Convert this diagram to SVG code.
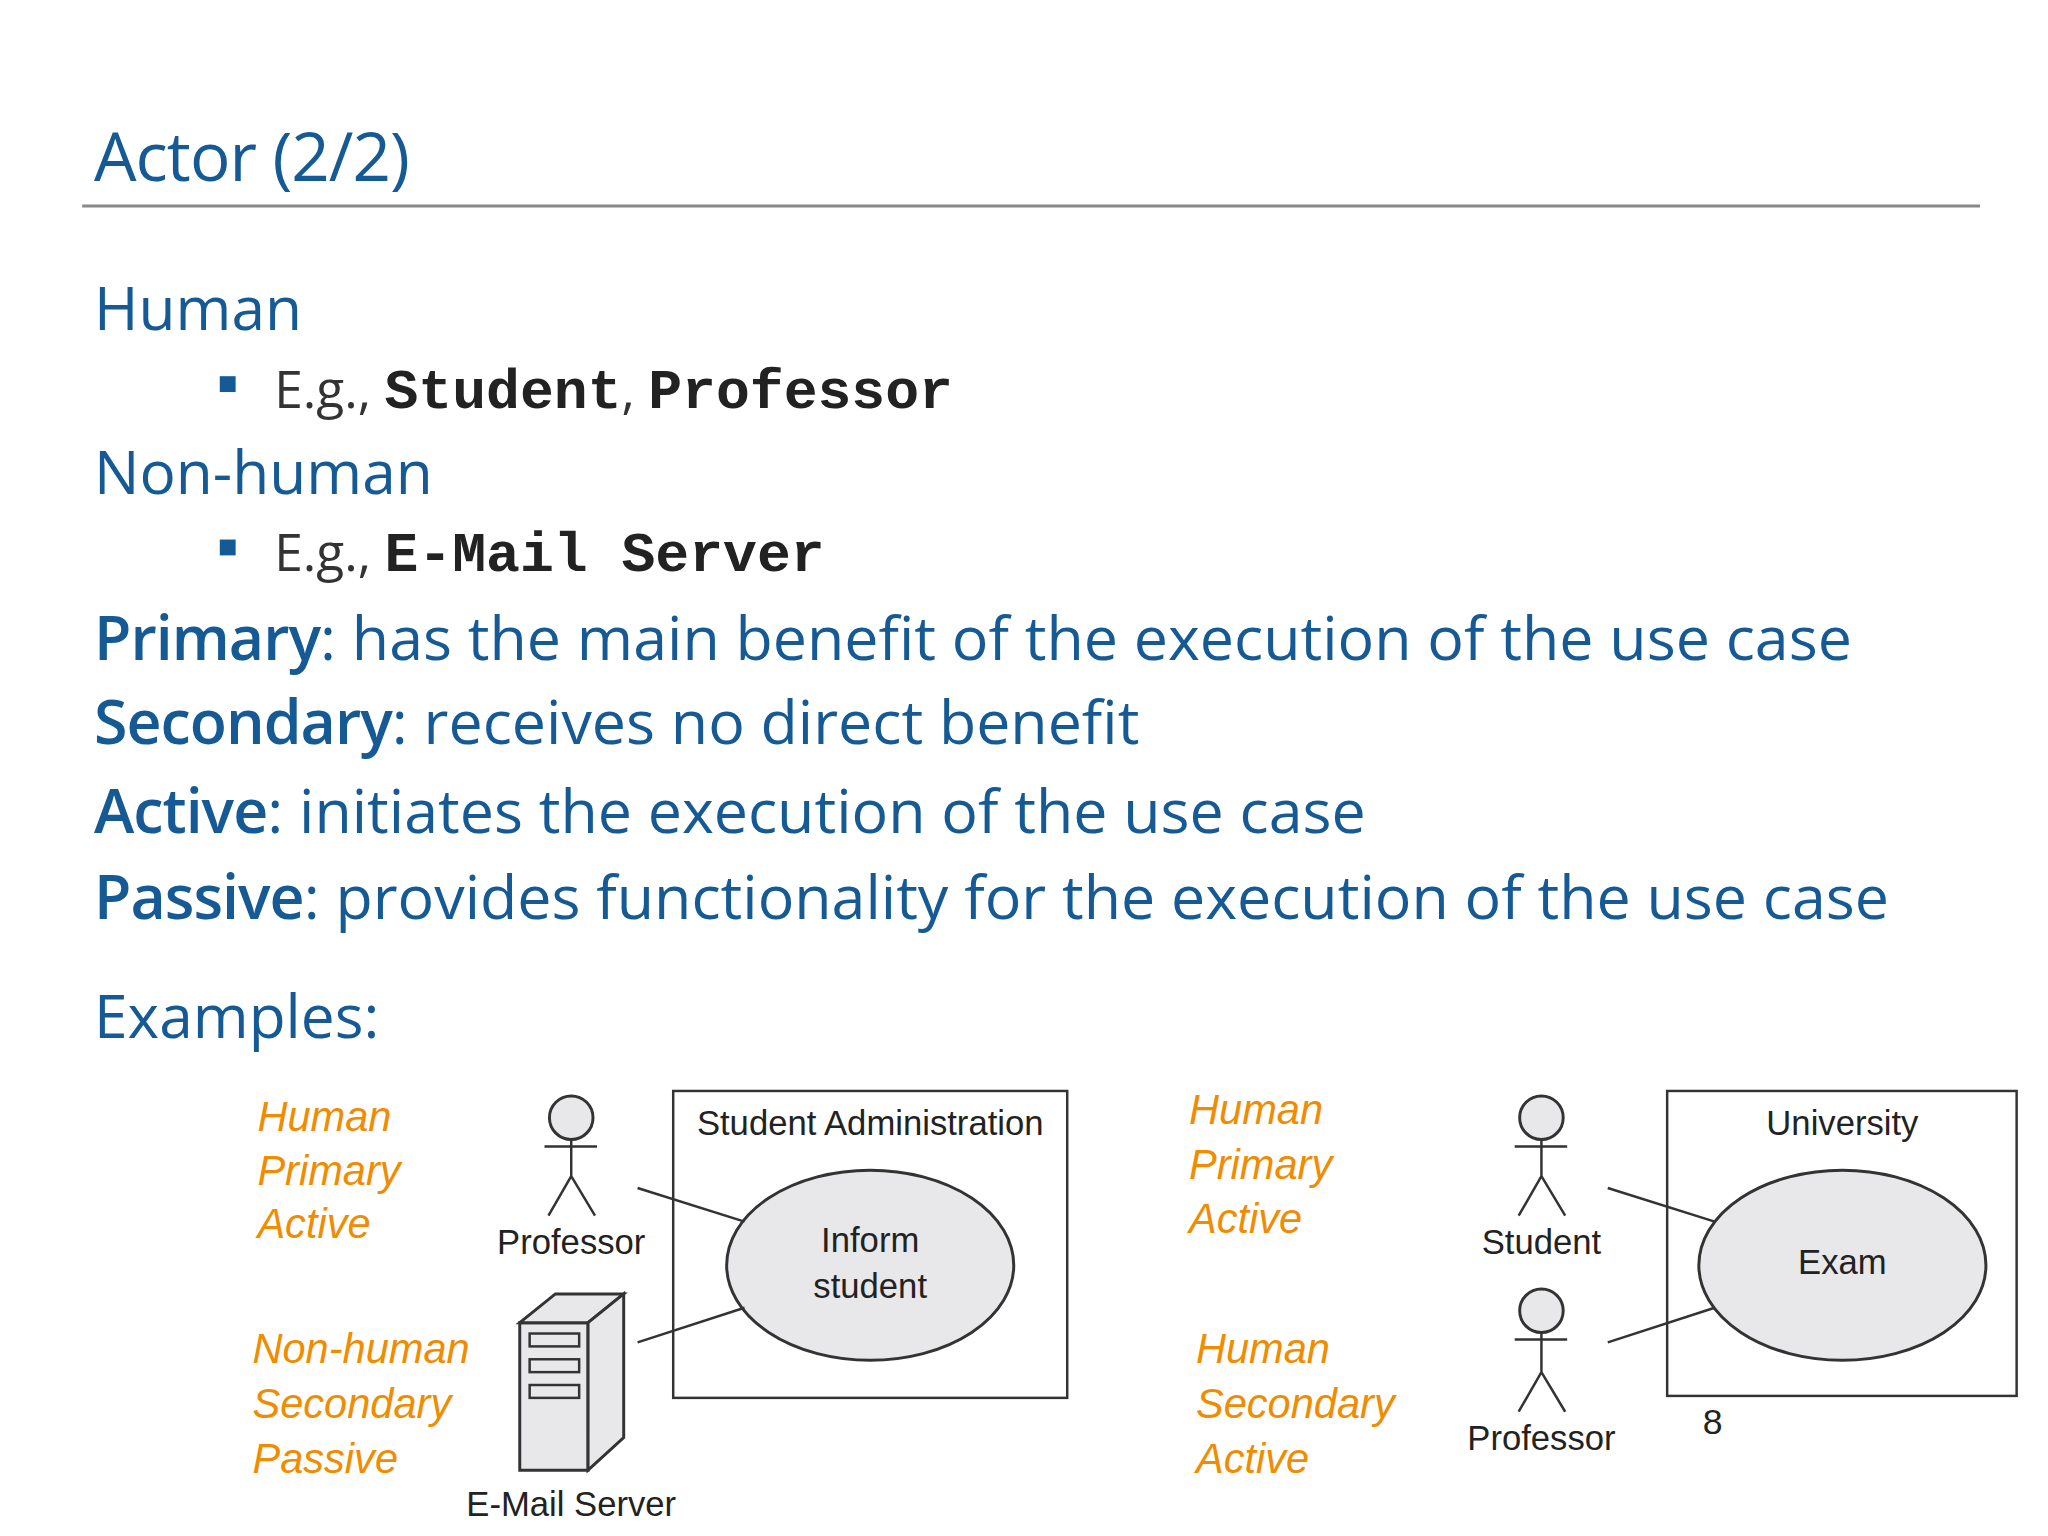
<svg xmlns="http://www.w3.org/2000/svg" width="2048" height="1536" viewBox="0 0 2048 1536">
<style>
.h{font-family:"Open Sans","Noto Sans",sans-serif;fill:#155a94}
.b{font-weight:600;letter-spacing:-1px}
.m{font-family:"Liberation Mono","DejaVu Sans Mono",monospace;font-weight:bold;fill:#222;font-size:57px}
.g{font-family:"Open Sans",sans-serif;fill:#333}
.o{font-family:"Liberation Sans",Arial,sans-serif;font-style:italic;fill:#f08c00;font-size:42px}
.t{font-family:"Liberation Sans",Arial,sans-serif;fill:#222;font-size:35px;text-anchor:middle}
.s{stroke:#333;stroke-width:2.5;fill:none}
.f{fill:#e8e7ea;stroke:#333;stroke-width:3}
</style>
<rect width="2048" height="1536" fill="#fff"/>
<g transform="scale(0.99)">
<text class="h" x="95" y="183" font-size="68" letter-spacing="-1">Actor (2/2)</text>
<line x1="83" y1="208" x2="2000" y2="208" stroke="#888" stroke-width="3"/>
<text class="h" x="95" y="333" font-size="61">Human</text>
<rect x="222" y="380" width="16" height="16" fill="#155a94"/>
<text class="g" x="277" y="412" font-size="52">E.g., <tspan class="m">Student</tspan>, <tspan class="m">Professor</tspan></text>
<text class="h" x="95" y="499" font-size="61">Non-human</text>
<rect x="222" y="545" width="16" height="16" fill="#155a94"/>
<text class="g" x="277" y="577" font-size="52">E.g., <tspan class="m">E-Mail Server</tspan></text>
<text class="h" x="95" y="667" font-size="61.5"><tspan class="b">Primary</tspan>: has the main benefit of the execution of the use case</text>
<text class="h" x="95" y="752" font-size="61.5"><tspan class="b">Secondary</tspan>: receives no direct benefit</text>
<text class="h" x="95" y="841" font-size="61.5"><tspan class="b">Active</tspan>: initiates the execution of the use case</text>
<text class="h" x="95" y="928" font-size="61.5"><tspan class="b">Passive</tspan>: provides functionality for the execution of the use case</text>
<text class="h" x="95" y="1049" font-size="61">Examples:</text>

<g id="labels-left">
<text class="o" x="260" y="1142">Human</text>
<text class="o" x="260" y="1197">Primary</text>
<text class="o" x="260" y="1251">Active</text>
<text class="o" x="255" y="1377">Non-human</text>
<text class="o" x="255" y="1432">Secondary</text>
<text class="o" x="255" y="1488">Passive</text>
</g>
<g id="labels-right">
<text class="o" x="1201" y="1135">Human</text>
<text class="o" x="1201" y="1191">Primary</text>
<text class="o" x="1201" y="1245">Active</text>
<text class="o" x="1208" y="1377">Human</text>
<text class="o" x="1208" y="1432">Secondary</text>
<text class="o" x="1208" y="1488">Active</text>
</g>

<g id="actor-professor1">
<circle class="f" cx="577" cy="1129" r="22" stroke-width="2.5"/>
<path class="s" d="M550 1158H603M577 1151V1188L554 1228M577 1188L601 1228"/>
<text class="t" x="577" y="1267">Professor</text>
</g>
<g id="email-server">
<path class="f" d="M525 1336H594V1485H525Z" stroke-width="2.5"/>
<path class="f" d="M525 1336L561 1307H630L594 1336Z" stroke-width="2.5"/>
<path class="f" d="M594 1336L630 1307V1452L594 1485Z" stroke-width="2.5"/>
<rect class="s" x="535" y="1347" width="50" height="13"/>
<rect class="s" x="535" y="1373" width="50" height="13"/>
<rect class="s" x="535" y="1399" width="50" height="13"/>
<text class="t" x="577" y="1531">E-Mail Server</text>
</g>
<g id="system-student-admin">
<rect class="s" x="680" y="1102" width="398" height="310"/>
<text class="t" x="879" y="1146">Student Administration</text>
</g>
<g id="uc-inform">
<ellipse class="f" cx="879" cy="1278" rx="145" ry="96"/>
<text class="t" x="879" y="1265">Inform</text>
<text class="t" x="879" y="1311">student</text>
</g>

<g id="actor-student">
<circle class="f" cx="1557" cy="1129" r="22" stroke-width="2.5"/>
<path class="s" d="M1530 1158H1583M1557 1151V1188L1534 1228M1557 1188L1581 1228"/>
<text class="t" x="1557" y="1267">Student</text>
</g>
<g id="actor-professor2">
<circle class="f" cx="1557" cy="1324" r="22" stroke-width="2.5"/>
<path class="s" d="M1530 1353H1583M1557 1346V1386L1534 1426M1557 1386L1581 1426"/>
<text class="t" x="1557" y="1465">Professor</text>
</g>
<g id="system-university">
<rect class="s" x="1684" y="1102" width="353" height="308"/>
<text class="t" x="1861" y="1146">University</text>
</g>
<g id="uc-exam">
<ellipse class="f" cx="1861" cy="1278" rx="145" ry="96"/>
<text class="t" x="1861" y="1287">Exam</text>
</g>

<g id="connectors">
<line class="s" x1="644" y1="1200" x2="752" y2="1234"/>
<line class="s" x1="644" y1="1356" x2="752" y2="1321"/>
<line class="s" x1="1624" y1="1200" x2="1732" y2="1234"/>
<line class="s" x1="1624" y1="1356" x2="1732" y2="1321"/>
</g>
<text x="1720" y="1449" font-family="Liberation Sans,sans-serif" font-size="36" fill="#222">8</text>
</g>
</svg>
